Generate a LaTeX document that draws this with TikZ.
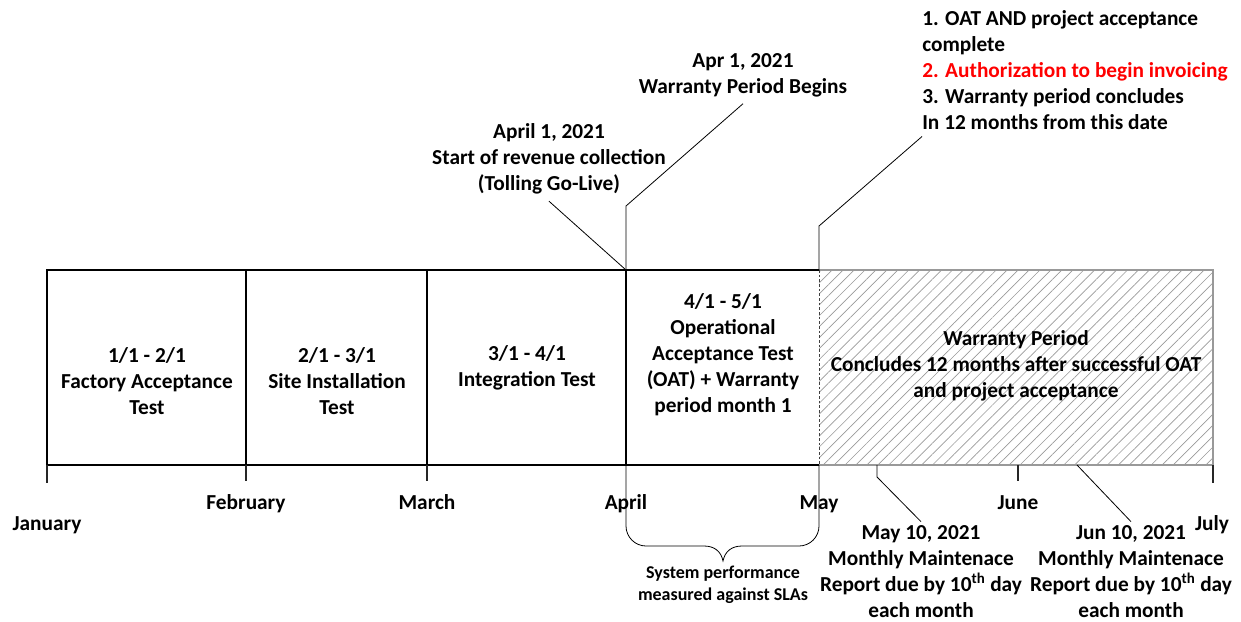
\documentclass[tikz,border=0pt]{standalone}
\usepackage{fontspec}
\setmainfont{Carlito}
\usetikzlibrary{patterns.meta}

\begin{document}
\begin{tikzpicture}[x=0.75pt,y=-0.75pt,
    txt/.style={font=\bfseries\fontsize{16}{19.5}\selectfont, align=center, inner sep=5pt},
    month/.style={font=\bfseries\fontsize{16}{19.5}\selectfont, anchor=base},
    small/.style={font=\bfseries\fontsize{13.5}{16.5}\selectfont, align=center},
    phase/.style={draw=black, line width=0.9pt},
    leader/.style={draw=black, line width=0.6pt},
    tick/.style={draw=black!85, line width=0.8pt}]
    \useasboundingbox (0,0) rectangle (1241,621);

    % month positions on the axis
    \coordinate (jan) at (47,465);
    \coordinate (feb) at (246,465);
    \coordinate (mar) at (427,465);
    \coordinate (apr) at (626,465);
    \coordinate (may) at (819,465);
    \coordinate (jun) at (1018,465);
    \coordinate (jul) at (1213,465);
    \coordinate (janT) at (47,270);
    \coordinate (febT) at (246,270);
    \coordinate (marT) at (427,270);
    \coordinate (aprT) at (626,270);
    \coordinate (mayT) at (819,270);
    \coordinate (julT) at (1213,270);

    % warranty period, hatched
    \fill[pattern={Lines[angle=45,distance=5.8pt,line width=0.5pt]},pattern color=black!40] (mayT) rectangle (jul);
    \draw[black!40, line width=0.9pt] (mayT) -- (julT) -- (jul) -- (may);
    \draw[black!75, line width=0.7pt, dash pattern=on 2pt off 1.5pt] (mayT) -- (may);

    % phases up to May
    \draw[phase] (mayT) -- (janT) -- (jan) -- (may);
    \draw[phase] (febT) -- (feb);
    \draw[phase] (marT) -- (mar);
    \draw[phase] (aprT) -- (apr);

    % ticks
    \draw[tick] (jan) -- ++(0,18);
    \draw[tick] (feb) -- ++(0,16);
    \draw[tick] (mar) -- ++(0,16);
    \draw[tick] (jun) -- ++(0,16);
    \draw[tick] (jul) -- ++(0,18);

    \node[txt] (fat) at (147,381) {1/1 - 2/1\\Factory Acceptance\\Test};
    \node[txt] (sit) at (337,381) {2/1 - 3/1\\Site Installation\\Test};
    \node[txt] (intg) at (527,368) {3/1 - 4/1\\Integration Test};
    \node[txt] (oat) at (723,355) {4/1 - 5/1\\Operational\\Acceptance Test\\(OAT) + Warranty\\period month 1};
    \node[txt] (wty) at (1016,366) {Warranty Period\\Concludes 12 months after successful OAT\\and project acceptance};

    % months
    \node[month] (mjan) at (47,530) {January};
    \node[month] (mfeb) at (246,509) {February};
    \node[month] (mmar) at (427,509) {March};
    \node[month] (mapr) at (626,509) {April};
    \node[month] (mmay) at (819,509) {May};
    \node[month] (mjun) at (1018,509) {June};
    \node[month] (mjul) at (1212,530) {July};

    % callouts above
    \node[txt] (rev) at (549,159) {April 1, 2021\\Start of revenue collection\\(Tolling Go-Live)};
    \draw[leader] (rev.south) -- (aprT);

    \node[txt] (wbeg) at (743,75) {Apr 1, 2021\\Warranty Period Begins};
    \coordinate (wbegK) at (626,206);
    \draw[leader] (wbeg.south) -- (wbegK) -- (aprT);

    \node[txt, align=left, anchor=west, inner xsep=0pt] (accept) at (922,70)
        {1. OAT AND project acceptance\\complete\\\textcolor{red}{2. Authorization to begin invoicing}\\3. Warranty period concludes\\In 12 months from this date};
    \coordinate (acceptK) at (819,226);
    \draw[leader] (accept.south west) -- (acceptK) -- (mayT);

    % monthly reports
    \coordinate (m10) at (877,465);
    \coordinate (m10K) at (877,477);
    \coordinate (j10) at (1077,465);
    \node[txt, inner sep=3pt] (may10) at (921,572) {May 10, 2021\\Monthly Maintenace\\Report due by 10\textsuperscript{th} day\\each month};
    \node[txt, inner sep=3pt] (jun10) at (1131,572) {Jun 10, 2021\\Monthly Maintenace\\Report due by 10\textsuperscript{th} day\\each month};
    \draw[leader] (m10) -- (m10K) -- (may10.north);
    \draw[leader] (j10) -- (jun10.north);

    % brace under the OAT month
    \draw[leader] (apr) -- (626,526) .. controls (626,537) and (635,546) .. (646,546)
        -- (704,546) .. controls (714,546) and (721,551) .. (723,561)
        .. controls (725,551) and (732,546) .. (742,546)
        -- (799,546) .. controls (810,546) and (819,537) .. (819,526) -- (may);
    \node[small] (sla) at (723,585) {System performance\\measured against SLAs};
\end{tikzpicture}
\end{document}
